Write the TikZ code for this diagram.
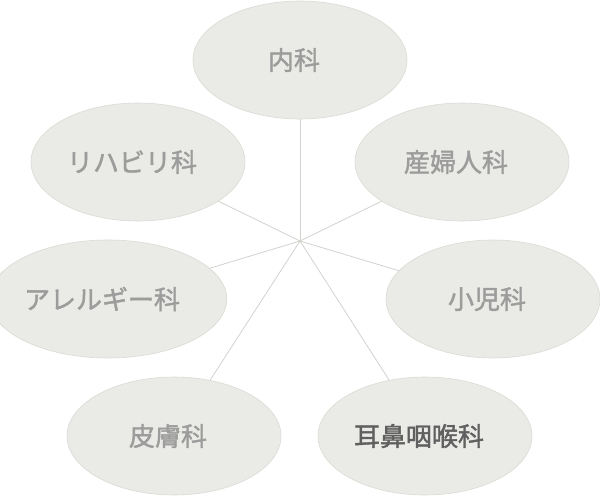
\documentclass[tikz,border=0pt]{standalone}
\usepackage{fontspec}
\newfontfamily\jpfont{Noto Sans CJK JP}[FakeBold=1.6]
\usepackage{xcolor}
\usepackage{tikz}
\usetikzlibrary{positioning, shapes.geometric}

\definecolor{paper}{HTML}{EAEAE6}
\definecolor{rim}{HTML}{DADAD5}
\definecolor{spoke}{HTML}{D2D2CD}
\definecolor{labelgray}{HTML}{9C9C9C}
\definecolor{labeldark}{HTML}{606060}

\begin{document}
\begin{tikzpicture}[
    x=1pt, y=-1pt,
    dept/.style={ellipse, draw=rim, line width=0.6pt, fill=paper,
        minimum width=214pt, minimum height=118pt, inner sep=0pt,
        text=labelgray, font=\jpfont\fontsize{26}{30}\selectfont,
        execute at end node={\hspace{12pt}}},
    active/.style={text=labeldark},
    spokeline/.style={draw=spoke, line width=0.8pt}
]
    \useasboundingbox (0,0) rectangle (600,500);

    % Hub where all spokes meet
    \coordinate (hub) at (300, 241);

    % Departments
    \node[dept] (naika)   at (300,  60) {内科};
    \node[dept] (rehab)   at (138, 162) {リハビリ科};
    \node[dept] (sanfu)   at (462, 162) {産婦人科};
    \node[dept] (allergy) at (108, 299) {アレルギー科};
    \node[dept] (shoni)   at (493, 299) {小児科};
    \node[dept] (hifu)    at (174, 436) {皮膚科};
    \node[dept, active] (jibi) at (425, 436) {耳鼻咽喉科};

    % Spokes from the hub to each department
    \foreach \d in {naika, rehab, sanfu, allergy, shoni, hifu, jibi}
        \draw[spokeline] (hub) -- (\d);
\end{tikzpicture}
\end{document}
